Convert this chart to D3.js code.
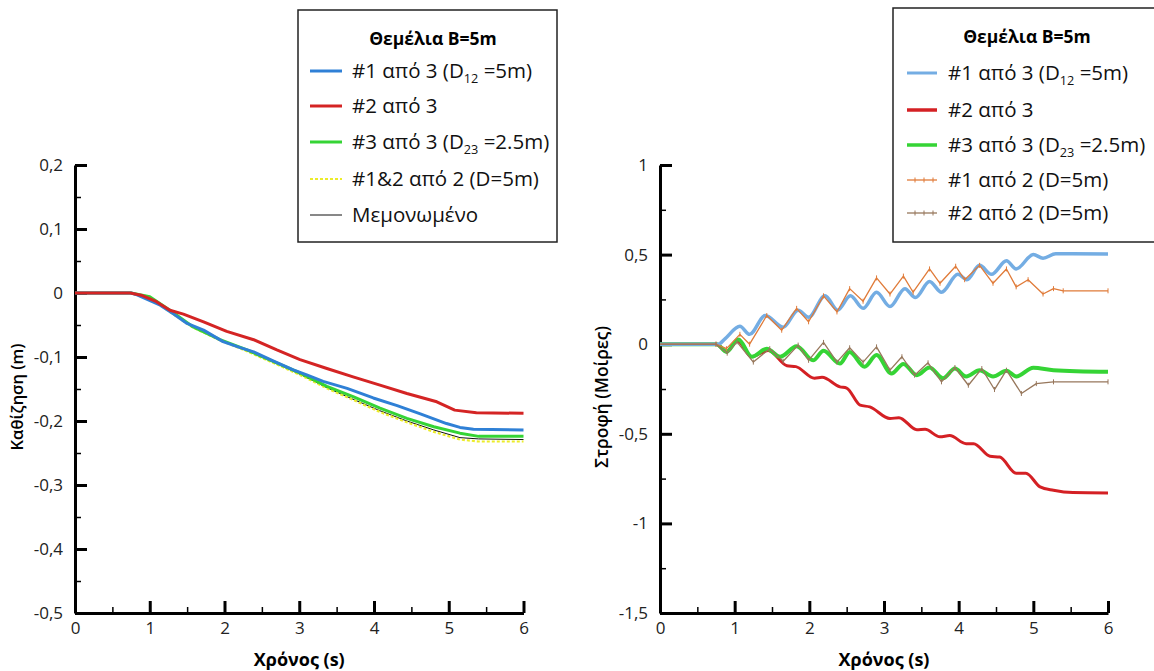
<!DOCTYPE html>
<html>
<head>
<meta charset="utf-8">
<script src="https://cdn.jsdelivr.net/npm/d3@7"></script>
<style>
  body { margin: 0; background: #fff; }
  svg { font-family: "Open Sans", sans-serif; }
  .axis .domain { stroke: #000; stroke-width: 3; }
  .axis .tick line { stroke: #000; stroke-width: 3; }
  .minor .tick line { stroke: #000; stroke-width: 1.5; }
  .axis text { font-size: 17px; fill: #222; font-family: "Open Sans", sans-serif; }
</style>
</head>
<body>
<svg id="chart" width="1154" height="671"></svg>
<script>
// ---- left chart: settlement (m) vs time (s) ----
const settleBlue = [[0,0],[0.75,0],[0.83,-0.003],[1.14,-0.019],[1.32,-0.033],[1.49,-0.047],[1.72,-0.058],[1.98,-0.076],[2.2,-0.085],[2.39,-0.092],[2.65,-0.106],[2.92,-0.12],[3.1,-0.128],[3.32,-0.138],[3.64,-0.149],[3.99,-0.164],[4.31,-0.176],[4.62,-0.189],[4.97,-0.204],[5.15,-0.21],[5.33,-0.213],[6,-0.214]];
const settleRed = [[0,0],[0.74,0],[0.9,-0.004],[1.09,-0.0135],[1.27,-0.027],[1.45,-0.033],[1.72,-0.045],[2.03,-0.06],[2.39,-0.073],[2.7,-0.089],[3.01,-0.104],[3.37,-0.118],[3.72,-0.131],[4.08,-0.144],[4.44,-0.157],[4.84,-0.17],[5.08,-0.183],[5.37,-0.187],[6,-0.188]];
const settleGreen = [[0,0],[0.75,0],[1.0,-0.006],[1.27,-0.027],[1.58,-0.053],[1.94,-0.073],[2.3,-0.089],[2.65,-0.107],[3.01,-0.125],[3.37,-0.146],[3.72,-0.162],[4.08,-0.18],[4.44,-0.196],[4.8,-0.209],[5.15,-0.219],[5.4,-0.224],[6,-0.224]];
const settleYellow = [[0,0],[0.75,0],[1.0,-0.006],[1.27,-0.03],[1.58,-0.054],[1.94,-0.074],[2.3,-0.091],[2.65,-0.109],[3.01,-0.128],[3.37,-0.149],[3.72,-0.167],[4.08,-0.186],[4.44,-0.202],[4.8,-0.217],[5.15,-0.229],[5.4,-0.232],[6,-0.232]];
const settleSingle = [[0,0],[0.75,0],[1.0,-0.006],[1.27,-0.03],[1.58,-0.053],[1.94,-0.073],[2.3,-0.09],[2.65,-0.108],[3.01,-0.127],[3.37,-0.148],[3.72,-0.166],[4.08,-0.184],[4.44,-0.2],[4.8,-0.214],[5.15,-0.226],[5.4,-0.228],[6,-0.229]];

// ---- right chart: rotation (degrees) vs time (s) ----
const rotBlue = [[0,0],[0.78,0],[0.87,0.03],[1.07,0.10],[1.2,0.055],[1.41,0.16],[1.65,0.095],[1.85,0.19],[1.99,0.15],[2.21,0.27],[2.38,0.19],[2.55,0.27],[2.72,0.20],[2.9,0.29],[3.08,0.21],[3.28,0.31],[3.42,0.26],[3.61,0.35],[3.77,0.29],[3.99,0.39],[4.11,0.36],[4.28,0.44],[4.44,0.39],[4.64,0.465],[4.77,0.42],[5.0,0.50],[5.13,0.48],[5.3,0.505],[6,0.503]];
const rotRed = [[0,0],[0.75,0],[0.89,-0.04],[1.03,0.02],[1.23,-0.07],[1.35,-0.05],[1.45,-0.035],[1.7,-0.12],[1.82,-0.125],[2.07,-0.19],[2.17,-0.185],[2.41,-0.238],[2.5,-0.245],[2.68,-0.34],[2.81,-0.35],[3.08,-0.415],[3.2,-0.41],[3.44,-0.477],[3.55,-0.475],[3.75,-0.517],[3.88,-0.51],[4.1,-0.555],[4.2,-0.555],[4.42,-0.625],[4.55,-0.63],[4.77,-0.72],[4.9,-0.72],[5.09,-0.796],[5.27,-0.815],[5.53,-0.828],[6,-0.83]];
const rotGreen = [[0,0],[0.76,0],[0.89,-0.043],[1.05,0.026],[1.23,-0.07],[1.43,-0.025],[1.61,-0.07],[1.83,-0.012],[2.05,-0.09],[2.19,-0.037],[2.41,-0.108],[2.54,-0.043],[2.74,-0.126],[2.9,-0.06],[3.1,-0.164],[3.26,-0.11],[3.44,-0.173],[3.61,-0.13],[3.79,-0.19],[3.95,-0.136],[4.1,-0.18],[4.28,-0.145],[4.46,-0.18],[4.64,-0.148],[4.77,-0.18],[5.0,-0.132],[5.27,-0.145],[6,-0.154]];
const rotOrange = [[0,0],[0.75,0],[0.89,-0.025],[1.07,0.055],[1.2,0.0],[1.43,0.16],[1.63,0.078],[1.83,0.2],[1.99,0.125],[2.19,0.27],[2.37,0.18],[2.54,0.31],[2.72,0.24],[2.9,0.37],[3.08,0.28],[3.26,0.38],[3.39,0.29],[3.61,0.42],[3.75,0.34],[3.96,0.435],[4.08,0.36],[4.28,0.44],[4.46,0.34],[4.64,0.42],[4.77,0.32],[4.93,0.36],[5.13,0.28],[5.27,0.31],[5.4,0.298],[6,0.298]];
const rotBrown = [[0,0],[0.75,0],[0.9,-0.05],[1.03,0.013],[1.25,-0.1],[1.47,-0.025],[1.65,-0.095],[1.85,-0.005],[1.99,-0.09],[2.19,0.01],[2.37,-0.1],[2.54,-0.02],[2.72,-0.1],[2.9,-0.015],[3.08,-0.145],[3.24,-0.07],[3.41,-0.173],[3.59,-0.104],[3.77,-0.21],[3.95,-0.13],[4.13,-0.229],[4.31,-0.136],[4.48,-0.253],[4.64,-0.145],[4.84,-0.275],[5.04,-0.22],[5.27,-0.21],[6,-0.21]];

const legendTitle = "Θεμέλια B=5m";
const xTicks = [0, 1, 2, 3, 4, 5, 6];
const settleTicks = [0.2, 0.1, 0, -0.1, -0.2, -0.3, -0.4, -0.5];
const rotTicks = [1, 0.5, 0, -0.5, -1, -1.5];

const svg = d3.select("#chart");
// comma decimals and a plain hyphen minus, as in the original
const fmt = v => String(+v.toFixed(2)).replace(".", ",");

function panel(box, yDomain, yMajor, yMinorStep, yLabel, yLabelSize) {
  const x = d3.scaleLinear().domain([0, 6]).range([box.left, box.right]);
  const y = d3.scaleLinear().domain(yDomain).range([box.bottom, box.top]);
  const g = svg.append("g");

  const minorX = d3.range(0.5, 6, 1);
  const minorY = d3.range(yDomain[0], yDomain[1] + 1e-9, yMinorStep).filter(v => !yMajor.some(m => Math.abs(m - v) < 1e-9));

  g.append("g").attr("class", "axis minor").attr("transform", `translate(0,${box.bottom})`)
    .call(d3.axisBottom(x).tickValues(minorX).tickSize(-6).tickSizeOuter(0).tickFormat(""))
    .select(".domain").remove();
  g.append("g").attr("class", "axis minor").attr("transform", `translate(${box.left},0)`)
    .call(d3.axisLeft(y).tickValues(minorY).tickSize(-6).tickSizeOuter(0).tickFormat(""))
    .select(".domain").remove();

  g.append("g").attr("class", "axis").attr("transform", `translate(0,${box.bottom})`)
    .call(d3.axisBottom(x).tickValues(xTicks).tickSize(-12).tickSizeOuter(0).tickPadding(9).tickFormat(d3.format("d")));
  g.append("g").attr("class", "axis").attr("transform", `translate(${box.left},0)`)
    .call(d3.axisLeft(y).tickValues(yMajor).tickSize(-12).tickSizeOuter(0).tickPadding(12).tickFormat(fmt));

  g.append("text").attr("x", (box.left + box.right) / 2).attr("y", box.bottom + 53)
    .attr("text-anchor", "middle").attr("font-size", 18).attr("font-weight", "bold").text("Χρόνος (s)");
  g.append("text").attr("transform", `translate(${box.left - 52},${(box.top + box.bottom) / 2 + 8}) rotate(-90)`)
    .attr("text-anchor", "middle").attr("font-size", yLabelSize).attr("font-weight", "600").text(yLabel);

  return { x, y, g };
}

function drawLine(p, data, color, width, opts = {}) {
  const line = d3.line().x(d => p.x(d[0])).y(d => p.y(d[1]))
    .curve(opts.smooth ? d3.curveMonotoneX : d3.curveLinear);
  p.g.append("path").datum(data).attr("fill", "none").attr("stroke", color)
    .attr("stroke-width", width).attr("stroke-linejoin", "round")
    .attr("stroke-dasharray", opts.dash || null).attr("d", line);
  if (opts.markers) {
    p.g.append("g").selectAll("line").data(data.filter(d => d[0] > 0)).join("line")
      .attr("x1", d => p.x(d[0])).attr("x2", d => p.x(d[0]))
      .attr("y1", d => p.y(d[1]) - 2.5).attr("y2", d => p.y(d[1]) + 2.5)
      .attr("stroke", color).attr("stroke-width", 1);
  }
}

function legend(box, rows, lineX, textX, titleX, rowYs, fontSize) {
  const g = svg.append("g");
  g.append("rect").attr("x", box.x).attr("y", box.y).attr("width", box.w).attr("height", box.h)
    .attr("fill", "#fff").attr("stroke", "#222").attr("stroke-width", 1.5);
  g.append("text").attr("x", titleX).attr("y", box.y + 35).attr("text-anchor", "middle")
    .attr("font-size", 17.5).attr("font-weight", "bold").text(legendTitle);
  rows.forEach((r, i) => {
    const yy = rowYs[i];
    g.append("line").attr("x1", lineX[0]).attr("x2", lineX[1]).attr("y1", yy).attr("y2", yy)
      .attr("stroke", r.color).attr("stroke-width", r.width).attr("stroke-dasharray", r.dash || null);
    if (r.markers) {
      [lineX[0] + 8, lineX[0] + 17, lineX[0] + 26].forEach(mx => g.append("line")
        .attr("x1", mx).attr("x2", mx).attr("y1", yy - 2.5).attr("y2", yy + 2.5)
        .attr("stroke", r.color).attr("stroke-width", 1));
    }
    const t = g.append("text").attr("x", textX).attr("y", yy + 7).attr("font-size", fontSize).attr("fill", "#111");
    r.parts.forEach(pt => {
      const s = t.append("tspan").text(pt.t);
      if (pt.sub) s.attr("font-size", fontSize * 0.62).attr("dy", 5);
      if (pt.up) s.attr("dy", -5);
    });
  });
}

// ---- left panel ----
const left = panel({ left: 75, right: 523.5, top: 165, bottom: 613 }, [-0.5, 0.2], settleTicks, 0.05, "Καθίζηση (m)", 16.5);
drawLine(left, settleSingle, "#111", 1);
drawLine(left, settleYellow, "#ecec2a", 2.2, { dash: "3,2" });
drawLine(left, settleGreen, "#35d435", 3);
drawLine(left, settleBlue, "#2f80d6", 3);
drawLine(left, settleRed, "#d42424", 3);

// ---- right panel ----
const right = panel({ left: 660, right: 1108, top: 165, bottom: 613 }, [-1.5, 1], rotTicks, 0.25, "Στροφή (Μοίρες)", 17.5);
drawLine(right, rotRed, "#d42024", 3, { smooth: true });
drawLine(right, rotGreen, "#35d435", 4, { smooth: true });
drawLine(right, rotBlue, "#74ade3", 3.5, { smooth: true });
drawLine(right, rotOrange, "#e07b39", 1.3, { markers: true });
drawLine(right, rotBrown, "#97775c", 1.3, { markers: true });

legend({ x: 298, y: 10, w: 259, h: 232 }, [
  { color: "#2f80d6", width: 3, parts: [{ t: "#1 από 3 (D" }, { t: "12", sub: true }, { t: " =5m)", up: true }] },
  { color: "#d42424", width: 3, parts: [{ t: "#2 από 3" }] },
  { color: "#35d435", width: 3, parts: [{ t: "#3 από 3 (D" }, { t: "23", sub: true }, { t: " =2.5m)", up: true }] },
  { color: "#ecec2a", width: 2, dash: "3,2", parts: [{ t: "#1&2 από 2 (D=5m)" }] },
  { color: "#111", width: 1, parts: [{ t: "Μεμονωμένο" }] }
], [310, 342], 352, 433, [71, 106, 142, 179, 215], 20.5);

legend({ x: 893, y: 8, w: 275, h: 234 }, [
  { color: "#74ade3", width: 3, parts: [{ t: "#1 από 3 (D" }, { t: "12", sub: true }, { t: " =5m)", up: true }] },
  { color: "#d42024", width: 3.5, parts: [{ t: "#2 από 3" }] },
  { color: "#35d435", width: 3.5, parts: [{ t: "#3 από 3 (D" }, { t: "23", sub: true }, { t: " =2.5m)", up: true }] },
  { color: "#e07b39", width: 1.3, markers: true, parts: [{ t: "#1 από 2 (D=5m)" }] },
  { color: "#97775c", width: 1.3, markers: true, parts: [{ t: "#2 από 2 (D=5m)" }] }
], [907, 937], 948, 1027, [73, 110, 145, 180, 213], 20.5);
</script>
</body>
</html>
